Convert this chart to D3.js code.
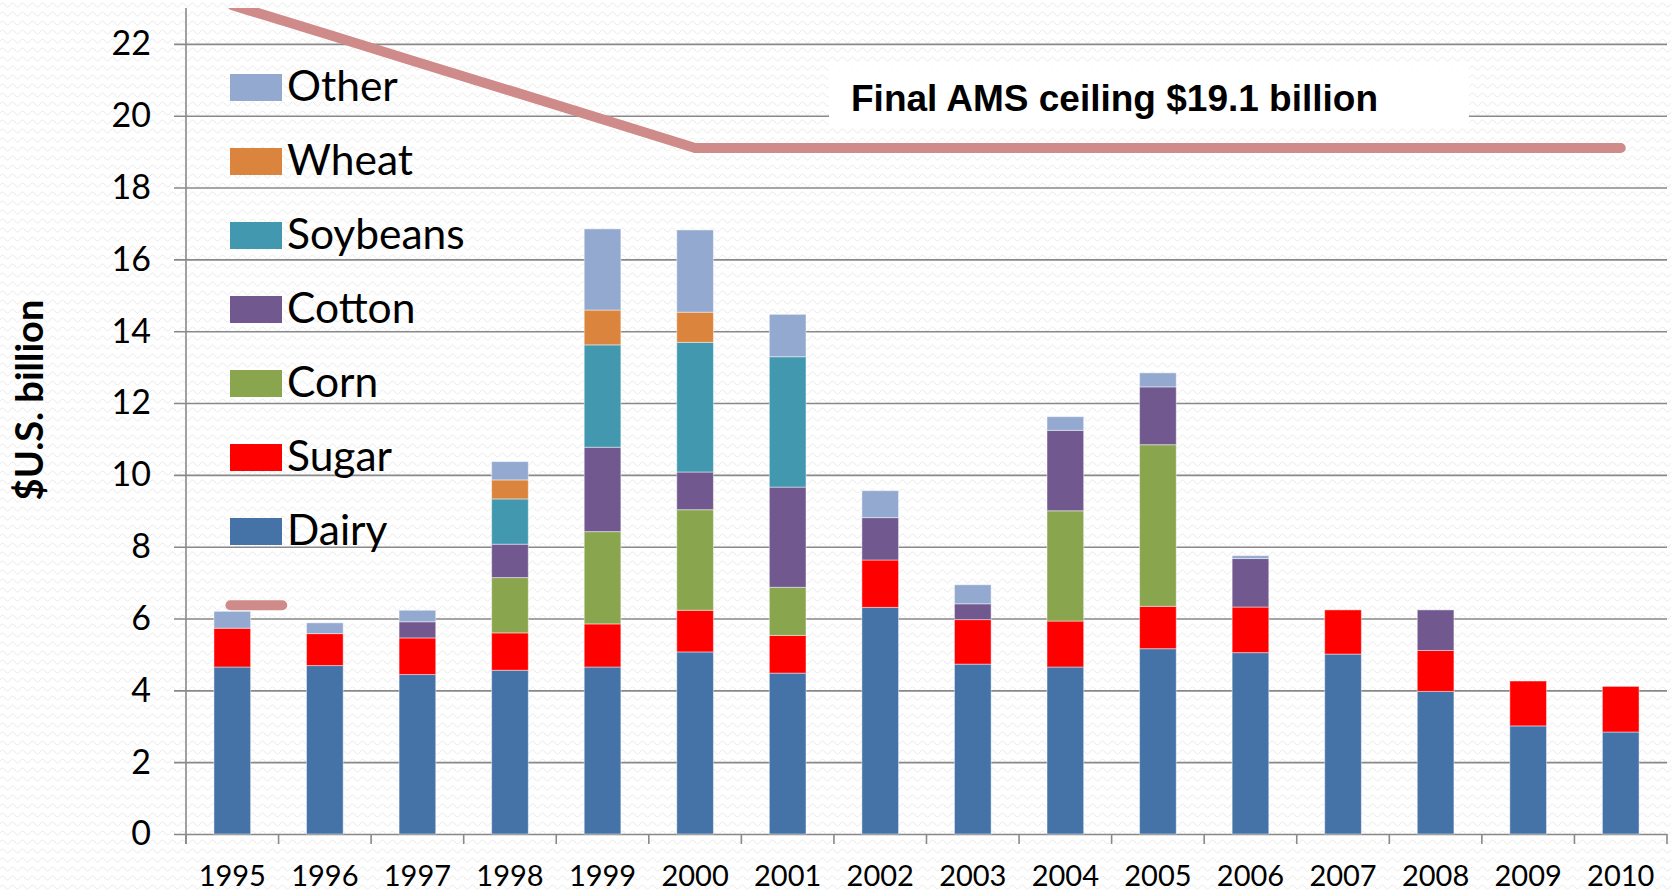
<!DOCTYPE html>
<html>
<head>
<meta charset="utf-8">
<script src="https://cdn.jsdelivr.net/npm/d3@7"></script>
<style>
  body { margin: 0; background: #fff; }
  svg { display: block; }
</style>
</head>
<body>
<script>
// data ($U.S. billion)
var years = ["1995", "1996", "1997", "1998", "1999", "2000", "2001", "2002",
             "2003", "2004", "2005", "2006", "2007", "2008", "2009", "2010"];
var dairy    = [4.65, 4.69, 4.44, 4.56, 4.65, 5.07, 4.48, 6.31, 4.73, 4.65, 5.16, 5.05, 5.01, 3.97, 3.01, 2.84];
var sugar    = [1.08, 0.89, 1.02, 1.04, 1.20, 1.16, 1.05, 1.32, 1.24, 1.28, 1.18, 1.27, 1.23, 1.14, 1.25, 1.27];
var corn     = [0, 0, 0, 1.54, 2.57, 2.80, 1.34, 0, 0, 3.07, 4.50, 0, 0, 0, 0, 0];
var cotton   = [0, 0, 0.45, 0.93, 2.35, 1.05, 2.79, 1.18, 0.44, 2.24, 1.61, 1.35, 0, 1.13, 0, 0];
var soybeans = [0, 0, 0, 1.26, 2.85, 3.61, 3.63, 0, 0, 0, 0, 0, 0, 0, 0, 0];
var wheat    = [0, 0, 0, 0.53, 0.97, 0.84, 0, 0, 0, 0, 0, 0, 0, 0, 0, 0];
var other    = [0.47, 0.30, 0.32, 0.51, 2.26, 2.29, 1.18, 0.75, 0.53, 0.38, 0.39, 0.08, 0, 0, 0, 0];

var seriesNames = ["Dairy", "Sugar", "Corn", "Cotton", "Soybeans", "Wheat", "Other"];
var seriesColors = ["#4572a7", "#ff0000", "#89a54e", "#71588f", "#4198af", "#db843d", "#93a9cf"];

// AMS ceiling commitments
var ceilingYears  = [1995, 1996, 1997, 1998, 1999, 2000, 2010];
var ceilingValues = [23.08, 22.29, 21.49, 20.70, 19.90, 19.10, 19.10];
var ceilingLabel = "Final AMS ceiling $19.1 billion";

// small dash near the 1995 bar
var dashYears = [1994.98, 1995.54];
var dashValue = 6.37;

var yTicks = d3.range(0, 23, 2);

var width = 1671;
var height = 891;
var padding = { left: 186, right: 4, top: 8, bottom: 57 };

var svg = d3.select("body")
  .append("svg")
  .attr("width", width)
  .attr("height", height);

// faint wavy texture like the slide background
var defs = svg.append("defs");
var pat = defs.append("pattern")
  .attr("id", "wave")
  .attr("patternUnits", "userSpaceOnUse")
  .attr("width", 10)
  .attr("height", 9);
pat.append("rect").attr("width", 10).attr("height", 9).attr("fill", "#ffffff");
pat.append("path")
  .attr("d", "M0,5 Q2.5,1 5,5 T10,5")
  .attr("fill", "none")
  .attr("stroke", "#ebebeb")
  .attr("stroke-width", 1);

svg.append("rect")
  .attr("width", width)
  .attr("height", height)
  .attr("fill", "url(#wave)");

defs.append("clipPath")
  .attr("id", "plotClip")
  .append("rect")
  .attr("x", padding.left)
  .attr("y", padding.top)
  .attr("width", width - padding.left - padding.right)
  .attr("height", height - padding.top - padding.bottom);

// scales
var xScale = d3.scaleBand()
  .domain(years)
  .range([padding.left, width - padding.right])
  .paddingInner(0.604)
  .paddingOuter(0.302);

var yScale = d3.scaleLinear()
  .domain([0, 23])
  .range([height - padding.bottom, padding.top]);

// continuous year scale through band centres, for the ceiling line
var yearScale = d3.scaleLinear()
  .domain([+years[0], +years[years.length - 1]])
  .range([xScale(years[0]) + xScale.bandwidth() / 2,
          xScale(years[years.length - 1]) + xScale.bandwidth() / 2]);

// gridlines + y labels
var yAxis = d3.axisLeft(yScale)
  .tickValues(yTicks)
  .tickSize(-(width - padding.right - padding.left + 12))
  .tickPadding(24);

var gy = svg.append("g")
  .attr("transform", "translate(" + (padding.left - 12) + ",0)")
  .call(yAxis);
gy.select(".domain").remove();
gy.selectAll(".tick line")
  .attr("stroke", "#898989")
  .attr("stroke-width", 1.6);
gy.selectAll(".tick text")
  .attr("x", -23)
  .style("font-family", "Lato, 'Open Sans', sans-serif")
  .style("font-size", "34px")
  .attr("fill", "#000");

// y axis line
svg.append("line")
  .attr("x1", padding.left).attr("x2", padding.left)
  .attr("y1", padding.top).attr("y2", height - padding.bottom + 10)
  .attr("stroke", "#898989")
  .attr("stroke-width", 1.6);

// category boundary ticks on the x axis
var step = xScale.step();
var bounds = years.map(function (d) {
  return xScale(d) + xScale.bandwidth() / 2 - step / 2;
});
bounds.push(xScale(years[years.length - 1]) + xScale.bandwidth() / 2 + step / 2);
svg.selectAll(".xtick")
  .data(bounds)
  .enter()
  .append("line")
  .attr("class", "xtick")
  .attr("x1", function (d) { return d; })
  .attr("x2", function (d) { return d; })
  .attr("y1", yScale(0))
  .attr("y2", yScale(0) + 10)
  .attr("stroke", "#898989")
  .attr("stroke-width", 1.6);

// stacked bars
var table = years.map(function (y, i) {
  return { year: y, Dairy: dairy[i], Sugar: sugar[i], Corn: corn[i], Cotton: cotton[i],
           Soybeans: soybeans[i], Wheat: wheat[i], Other: other[i] };
});
var stacked = d3.stack().keys(seriesNames)(table);

svg.append("g")
  .selectAll("g")
  .data(stacked)
  .enter()
  .append("g")
  .attr("fill", function (d, i) { return seriesColors[i]; })
  .selectAll("rect")
  .data(function (d) { return d.filter(function (p) { return p[1] - p[0] > 0; }); })
  .enter()
  .append("rect")
  .attr("x", function (d) { return xScale(d.data.year); })
  .attr("width", xScale.bandwidth())
  .attr("y", function (d) { return yScale(d[1]); })
  .attr("height", function (d) { return yScale(d[0]) - yScale(d[1]); })
  .attr("stroke", "rgba(255,255,255,0.45)")
  .attr("stroke-width", 1);

// x labels
svg.append("g")
  .selectAll("text")
  .data(years)
  .enter()
  .append("text")
  .attr("x", function (d) { return xScale(d) + xScale.bandwidth() / 2; })
  .attr("y", 886)
  .attr("text-anchor", "middle")
  .style("font-family", "Lato, 'Open Sans', sans-serif")
  .style("font-size", "29px")
  .text(function (d) { return d; });

// label box for the ceiling
var boxG = svg.append("g");
boxG.append("rect")
  .attr("x", 829)
  .attr("y", 66)
  .attr("width", 640)
  .attr("height", 61)
  .attr("fill", "#ffffff");
boxG.append("text")
  .attr("x", 851)
  .attr("y", 111)
  .style("font-family", "'Liberation Sans', Arial, sans-serif")
  .style("font-weight", "bold")
  .style("font-size", "37px")
  .text(ceilingLabel);

// ceiling line
var ceilLine = d3.line()
  .x(function (d, i) { return yearScale(ceilingYears[i]); })
  .y(function (d) { return yScale(d); });

svg.append("path")
  .datum(ceilingValues)
  .attr("clip-path", "url(#plotClip)")
  .attr("d", ceilLine)
  .attr("fill", "none")
  .attr("stroke", "#cf8a8a")
  .attr("stroke-width", 10)
  .attr("stroke-linecap", "round")
  .attr("stroke-linejoin", "round");

svg.append("line")
  .attr("x1", yearScale(dashYears[0]))
  .attr("x2", yearScale(dashYears[1]))
  .attr("y1", yScale(dashValue))
  .attr("y2", yScale(dashValue))
  .attr("stroke", "#cf8a8a")
  .attr("stroke-width", 10)
  .attr("stroke-linecap", "round");

// legend (top to bottom: Other ... Dairy)
var legendItems = seriesNames.slice().reverse();
var legendColors = seriesColors.slice().reverse();
var legend = svg.append("g")
  .selectAll("g")
  .data(legendItems)
  .enter()
  .append("g")
  .attr("transform", function (d, i) { return "translate(230," + (74 + i * 74) + ")"; });
legend.append("rect")
  .attr("width", 52)
  .attr("height", 27)
  .attr("fill", function (d, i) { return legendColors[i]; });
legend.append("text")
  .attr("x", 57)
  .attr("y", 27)
  .style("font-family", "Lato, 'Open Sans', sans-serif")
  .style("font-size", "42.5px")
  .text(function (d) { return d; });

// y axis title
svg.append("text")
  .attr("transform", "translate(43,400) rotate(-90)")
  .attr("text-anchor", "middle")
  .style("font-family", "Lato, 'Open Sans', sans-serif")
  .style("font-weight", "bold")
  .style("font-size", "38px")
  .text("$U.S. billion");
</script>
</body>
</html>
